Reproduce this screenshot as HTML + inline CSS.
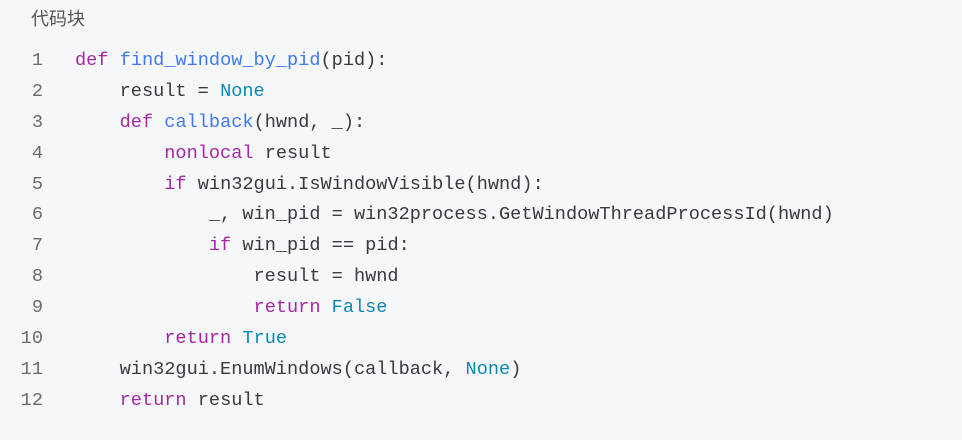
<!DOCTYPE html>
<html><head><meta charset="utf-8"><style>
html,body{margin:0;padding:0;}
body{width:962px;height:440px;background:#f6f7f8;position:relative;overflow:hidden;}
.t{position:absolute;left:31px;top:8px;line-height:22px;font-family:"Liberation Sans","Noto Sans CJK SC",sans-serif;font-size:18px;color:#555;}
.l{position:absolute;left:0;height:30px;line-height:30px;font-family:"Liberation Mono",monospace;font-size:18.6px;color:#383a42;white-space:pre;}
.n{position:absolute;right:919px;color:#6a6a6a;}
.c{position:absolute;left:75px;}
.k{color:#a626a4}.f{color:#4078f2}.b{color:#0e86b5}
</style></head><body>
<div class="t">代码块</div>
<div class="l" style="top:46px;width:962px"><span class="n">1</span><span class="c"><span class="k">def</span> <span class="f">find_window_by_pid</span>(pid):</span></div>
<div class="l" style="top:77px;width:962px"><span class="n">2</span><span class="c">    result = <span class="b">None</span></span></div>
<div class="l" style="top:108px;width:962px"><span class="n">3</span><span class="c">    <span class="k">def</span> <span class="f">callback</span>(hwnd, _):</span></div>
<div class="l" style="top:139px;width:962px"><span class="n">4</span><span class="c">        <span class="k">nonlocal</span> result</span></div>
<div class="l" style="top:170px;width:962px"><span class="n">5</span><span class="c">        <span class="k">if</span> win32gui.IsWindowVisible(hwnd):</span></div>
<div class="l" style="top:200px;width:962px"><span class="n">6</span><span class="c">            _, win_pid = win32process.GetWindowThreadProcessId(hwnd)</span></div>
<div class="l" style="top:231px;width:962px"><span class="n">7</span><span class="c">            <span class="k">if</span> win_pid == pid:</span></div>
<div class="l" style="top:262px;width:962px"><span class="n">8</span><span class="c">                result = hwnd</span></div>
<div class="l" style="top:293px;width:962px"><span class="n">9</span><span class="c">                <span class="k">return</span> <span class="b">False</span></span></div>
<div class="l" style="top:324px;width:962px"><span class="n">10</span><span class="c">        <span class="k">return</span> <span class="b">True</span></span></div>
<div class="l" style="top:355px;width:962px"><span class="n">11</span><span class="c">    win32gui.EnumWindows(callback, <span class="b">None</span>)</span></div>
<div class="l" style="top:386px;width:962px"><span class="n">12</span><span class="c">    <span class="k">return</span> result</span></div>
</body></html>
